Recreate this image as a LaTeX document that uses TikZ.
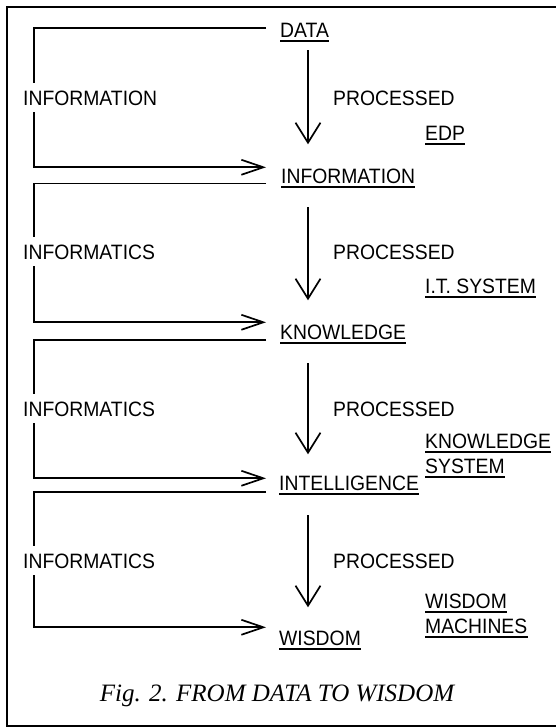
\documentclass[tikz,border=0pt]{standalone}
\usepackage{fontspec}
\setmainfont{Liberation Serif}
\newfontfamily\sansf[FakeStretch=0.93]{Liberation Sans}
\usetikzlibrary{arrows.meta,calc}
\begin{document}
\begin{tikzpicture}[x=1pt,y=-1pt,
  txt/.style={font=\sansf\fontsize{20.8}{23}\selectfont, inner sep=0pt, anchor=base west},
  lab/.style={txt, inner ysep=7pt},
  conn/.style={line width=1.7pt},
  harrow/.style={conn, -{Straight Barb[length=22pt,width=15pt]}},
  varrow/.style={conn, -{Straight Barb[length=20pt,width=25pt]}},
  ulline/.style={line width=1.5pt}]
\useasboundingbox (0,0) rectangle (556,728);
% frame (open on the right)
\draw[line width=1.6pt] (556,7) -- (7,7) -- (7,726) -- (556,726);
\coordinate (ax) at (308,0);
\coordinate (hx) at (266,0);
% main nodes
\node[txt] (data)  at (280,37)  {DATA};
\node[txt] (info)  at (281,183) {INFORMATION};
\node[txt] (know)  at (280,339) {KNOWLEDGE};
\node[txt] (intel) at (279,490) {INTELLIGENCE};
\node[txt] (wis)   at (279,645) {WISDOM};
% left labels
\node[lab] (l1) at (23,105) {INFORMATION};
\node[lab] (l2) at (23,259) {INFORMATICS};
\node[lab] (l3) at (23,416) {INFORMATICS};
\node[lab] (l4) at (23,568) {INFORMATICS};
% processed labels
\node[txt] (p1) at (333,105) {PROCESSED};
\node[txt] (p2) at (333,259) {PROCESSED};
\node[txt] (p3) at (333,416) {PROCESSED};
\node[txt] (p4) at (333,568) {PROCESSED};
% right labels
\node[txt] (edp) at (425,140) {EDP};
\node[txt] (its) at (425,293) {I.T. SYSTEM};
\node[txt] (ks1) at (425,448) {KNOWLEDGE};
\node[txt] (ks2) at (425,473) {SYSTEM};
\node[txt] (wm1) at (425,608) {WISDOM};
\node[txt] (wm2) at (425,633) {MACHINES};
% caption
\node[font=\itshape\fontsize{25}{28}\selectfont, inner sep=0pt, anchor=base] (cap) at (277,701) {Fig. 2. FROM DATA TO WISDOM};
% underlines
\foreach \n in {data,info,know,intel,wis,edp,its,ks1,ks2,wm1,wm2}
  \draw[ulline] ($(\n.base west)+(0,4)$) -- ($(\n.base east)+(0,4)$);
% brackets
\draw[conn] ($(data.west -| hx)+(0,-2)$) -| ($(l1.north west)+(11,0)$);
\draw[harrow] ($(l1.south west)+(11,0)$) |- ($(info.north -| hx)+(0,-1)$);
\draw[conn] ($(info.base -| hx)+(0,0.5)$) -| ($(l2.north west)+(11,0)$);
\draw[harrow] ($(l2.south west)+(11,0)$) |- ($(know.north -| hx)+(0,-2)$);
\draw[conn] ($(know.base -| hx)+(0,1)$) -| ($(l3.north west)+(11,0)$);
\draw[harrow] ($(l3.south west)+(11,0)$) |- ($(intel.north -| hx)+(0,3)$);
\draw[conn] ($(intel.base -| hx)+(0,2)$) -| ($(l4.north west)+(11,0)$);
\draw[harrow] ($(l4.south west)+(11,0)$) |- ($(wis.north -| hx)+(0,-3)$);
% processing arrows
\draw[varrow] ($(data.base -| ax)+(0,13)$) -- ($(info.north -| ax)+(0,-24)$);
\draw[varrow] ($(info.base -| ax)+(0,24)$) -- ($(know.north -| ax)+(0,-24)$);
\draw[varrow] ($(know.base -| ax)+(0,24)$) -- ($(intel.north -| ax)+(0,-21)$);
\draw[varrow] ($(intel.base -| ax)+(0,25)$) -- ($(wis.north -| ax)+(0,-23)$);
\end{tikzpicture}
\end{document}
